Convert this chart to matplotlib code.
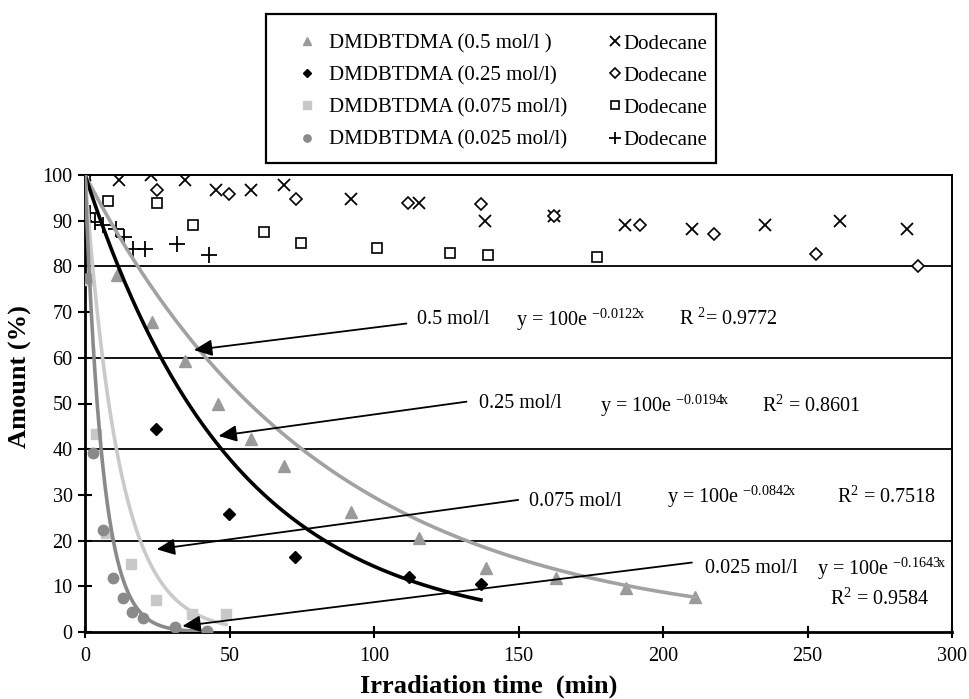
import numpy as np
import matplotlib
matplotlib.use('Agg')
import matplotlib.pyplot as plt
from matplotlib.patches import Rectangle

plt.rcParams['font.family'] = ['Liberation Serif', 'DejaVu Serif']
plt.rcParams['mathtext.default'] = 'regular'

# DMDBTDMA measurements (irradiation time in min, amount in %)
t_05 = [11.2, 23.3, 34.6, 45.9, 57.4, 68.9, 92.1, 115.4, 138.9, 162.9, 187.1, 211.1]
a_05 = [78.1, 67.9, 59.4, 50.0, 42.2, 36.4, 26.2, 20.6, 14.1, 11.9, 9.7, 7.7]
t_025 = [24.7, 49.7, 72.6, 112.2, 137.0]
a_025 = [44.4, 25.9, 16.4, 12.1, 10.4]
t_0075 = [1.2, 3.9, 7.3, 15.8, 24.5, 37.1, 48.8]
a_0075 = [77.0, 43.3, 21.6, 14.9, 7.1, 3.9, 4.0]
t_0025 = [1.2, 2.9, 6.1, 9.7, 13.2, 16.3, 20.1, 31.3, 42.1]
a_0025 = [77.5, 39.1, 22.4, 11.9, 7.4, 4.4, 3.0, 1.2, 0.2]

# Dodecane measurements
t_dx = [0, 11.8, 23.0, 34.6, 45.5, 57.3, 69.0, 92.0, 115.5, 138.5, 162.3, 186.8, 210.2, 235.4, 261.1, 284.6]
a_dx = [100, 98.9, 99.9, 98.9, 96.8, 96.8, 97.8, 94.7, 93.9, 90.0, 91.0, 89.0, 88.1, 89.0, 90.0, 88.1]
t_dd = [0, 25.0, 49.8, 73.0, 111.8, 137.0, 162.3, 192.0, 217.6, 253.0, 288.2]
a_dd = [100, 96.8, 95.9, 94.7, 93.9, 93.6, 91.0, 89.0, 87.0, 82.8, 80.0]
t_ds = [0, 8.1, 24.9, 37.2, 61.9, 74.6, 100.9, 126.3, 139.3, 177.2]
a_ds = [100, 94.3, 93.9, 89.0, 87.5, 85.1, 84.0, 82.9, 82.6, 82.0]
t_dp = [0, 1.7, 3.3, 6.3, 10.6, 13.5, 16.6, 20.7, 32.0, 42.8]
a_dp = [100, 91.7, 89.8, 89.1, 88.2, 86.5, 83.8, 83.8, 84.8, 82.4]

# exponential trendlines y = 100 exp(k x), fitted range end
fit_k = [-0.0122, -0.0194, -0.0842, -0.1643]
fit_end = [211.1, 137.0, 48.8, 42.1]
fit_labels = ['0.5 mol/l', '0.25 mol/l', '0.075 mol/l', '0.025 mol/l']
fit_r2 = ['0.9772', '0.8601', '0.7518', '0.9584']

c_05 = '#9a9a9a'
c_0075 = '#c8c8c8'
c_0025 = '#8a8a8a'
curve_colors = ['#a2a2a2', 'black', '#cacaca', '#8a8a8a']

fig = plt.figure(figsize=(9.69, 6.99), dpi=100)
ax = fig.add_axes([85 / 969, 67 / 699, 867 / 969, 457 / 699])

h1, = ax.plot(t_05, a_05, '^', color=c_05, ms=9, mec=c_05, ls='none', zorder=3)
h2, = ax.plot(t_025, a_025, 'D', color='black', ms=6, ls='none', zorder=3)
h3, = ax.plot(t_0075, a_0075, 's', color=c_0075, ms=7.5, mec=c_0075, ls='none', zorder=3)
h4, = ax.plot(t_0025, a_0025, 'o', color=c_0025, ms=7.5, mec=c_0025, ls='none', zorder=3)

h5, = ax.plot(t_dx, a_dx, 'x', color='black', ms=9, mew=1.3, ls='none', zorder=3)
h6, = ax.plot(t_dd, a_dd, 'D', mfc='white', mec='black', ms=6, mew=1.2, ls='none', zorder=3)
h7, = ax.plot(t_ds, a_ds, 's', mfc='white', mec='black', ms=7.5, mew=1.2, ls='none', zorder=3)
h8, = ax.plot(t_dp, a_dp, '+', color='black', ms=11, mew=1.3, ls='none', zorder=3)

for k, end, col in zip(fit_k, fit_end, curve_colors):
    xs = np.linspace(0, end, 300)
    ax.plot(xs, 100 * np.exp(k * xs), color=col, lw=2.6, zorder=4)

# equation labels and arrows
arrow_tail = [(111.2, 67.5), (132.0, 50.4), (149.9, 28.9), (210.0, 15.2)]
arrow_tip = [(37.7, 61.7), (46.2, 42.9), (24.8, 18.1), (33.7, 1.3)]
lab_pos = [(115.0, 68.4), (136.5, 50.0), (153.8, 28.5), (214.6, 13.9)]
eq_pos = [(149.3, 68.4), (178.1, 49.5), (201.3, 29.5), (253.4, 13.9)]
r2_pos = [(205.5, 68.4), (234.3, 49.5), (260.3, 29.5), (257.9, 7.2)]

fs = 14.5
for i in range(4):
    ax.annotate('', xy=arrow_tip[i], xytext=arrow_tail[i],
                arrowprops=dict(arrowstyle='-|>,head_length=0.55,head_width=0.25',
                                color='black', lw=1.3, mutation_scale=20,
                                shrinkA=0, shrinkB=0), zorder=5)
    ax.text(*lab_pos[i], fit_labels[i], fontsize=fs, va='center', ha='left')
    ax.text(*eq_pos[i], 'y = 100e $^{%s\\!x}$' % fit_k[i],
            fontsize=fs, va='center', ha='left')
    r2 = ('R $^{2}$= ' if i == 0 else 'R$^{2}$ = ') + fit_r2[i]
    ax.text(*r2_pos[i], r2, fontsize=fs, va='center', ha='left')

ax.set_xlim(0, 300)
ax.set_ylim(0, 100)
ax.set_xticks(range(0, 301, 50))
ax.set_yticks(range(0, 101, 10))
for g in [20, 40, 60, 80]:
    ax.axhline(g, color='black', lw=1.3, zorder=1)

ax.tick_params(axis='both', direction='inout', length=10, width=1.5, labelsize=14.5, pad=4)
ax.tick_params(axis='x', length=9, pad=6)
for s in ['left', 'bottom']:
    ax.spines[s].set_linewidth(2)
for s in ['top', 'right']:
    ax.spines[s].set_linewidth(1.4)

ax.set_ylabel('Amount (%)', fontsize=19, fontweight='bold')
ax.yaxis.set_label_coords(-0.074, 0.56)
ax.yaxis.label.set_va('center')
ax.set_xlabel('Irradiation time  (min)', fontsize=19, fontweight='bold')
ax.xaxis.set_label_coords(0.466, -0.118)
ax.xaxis.label.set_va('center')

# legend box drawn in figure pixels, two columns of entries inside
fig.patches.append(Rectangle((266 / 969, 1 - 163 / 699), 450 / 969, 149 / 699,
                             transform=fig.transFigure, fill=False, ec='black', lw=1.6))
leg_kw = dict(loc='upper left', frameon=False, fontsize=15, labelspacing=0.6,
              borderpad=0, borderaxespad=0)
fig.legend([h1, h2, h3, h4],
           ['DMDBTDMA (0.5 mol/l )', 'DMDBTDMA (0.25 mol/l)',
            'DMDBTDMA (0.075 mol/l)', 'DMDBTDMA (0.025 mol/l)'],
           bbox_to_anchor=(297 / 969, 1 - 34 / 699), handlelength=1.0,
           handletextpad=0.55, markerscale=0.7, **leg_kw)
fig.legend([h5, h6, h7, h8], ['Dodecane'] * 4,
           bbox_to_anchor=(609 / 969, 1 - 34 / 699), handlelength=0.6,
           handletextpad=0.1, markerscale=0.8, **leg_kw)

fig.savefig('out.png', dpi=100)
